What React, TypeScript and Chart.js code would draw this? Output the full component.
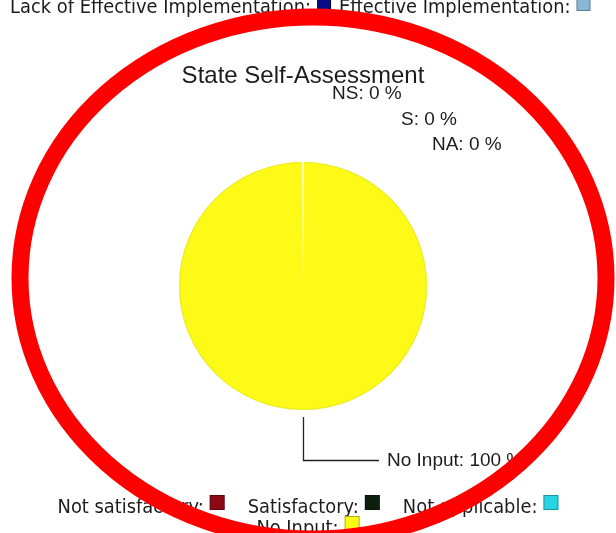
import React, { useEffect, useRef } from "react";
import { Chart, registerables } from "chart.js";

Chart.register(...registerables);

// ---- data ----
const chartTitle = "State Self-Assessment";
const categories = ["Not satisfactory", "Satisfactory", "Not applicable", "No Input"];
const shortLabels = ["NS", "S", "NA", "No Input"];
const values = [0, 0, 0, 100];
const sliceColors = ["#8c0a14", "#0c1f0e", "#26d4e2", "#fcfa16"];
const topLegendLabels = ["Lack of Effective Implementation", "Effective Implementation"];
const topLegendColors = ["#0b0b88", "#88b6d4"];

// ---- layout constants (not data) ----
const W = 616;
const H = 533;
const LEGEND_FONT = "19px 'DejaVu Sans'";
const LEGEND_SX = 0.94;
const LABEL_FONT = "19px 'Liberation Sans', Arial";
const TEXT_COLOR = "#1c1c1c";
// offsets (in radius units) of the stacked labels for zero-size slices
const zeroLabelOffsets = [
  [0.234, -1.508],
  [0.79, -1.298],
  [1.04, -1.097],
];

function drawText(
  ctx: CanvasRenderingContext2D,
  s: string,
  x: number,
  y: number,
  font: string,
  color: string,
  align: "left" | "center" | "right" = "left",
  sx = 1
) {
  ctx.save();
  ctx.font = font;
  ctx.fillStyle = color;
  ctx.textBaseline = "alphabetic";
  ctx.textAlign = "left";
  const w = ctx.measureText(s).width * sx;
  const x0 = align === "center" ? x - w / 2 : align === "right" ? x - w : x;
  ctx.translate(x0, y);
  ctx.scale(sx, 1);
  ctx.fillText(s, 0, 0);
  ctx.restore();
  return w;
}

function measure(ctx: CanvasRenderingContext2D, s: string, font: string, sx: number) {
  ctx.save();
  ctx.font = font;
  const w = ctx.measureText(s).width * sx;
  ctx.restore();
  return w;
}

function drawSwatch(ctx: CanvasRenderingContext2D, x: number, y: number, size: number, color: string) {
  ctx.save();
  ctx.fillStyle = color;
  ctx.fillRect(x, y, size, size);
  ctx.strokeStyle = "rgba(0,0,0,0.3)";
  ctx.lineWidth = 1;
  ctx.strokeRect(x + 0.5, y + 0.5, size - 1, size - 1);
  ctx.restore();
}

type Item = { label: string; color: string };

function drawLegendRow(ctx: CanvasRenderingContext2D, items: Item[], centerX: number, baseline: number) {
  const sw = 15;
  const gapTS = 6;
  const gapItem = 23;
  const widths = items.map((it) => measure(ctx, it.label + ":", LEGEND_FONT, LEGEND_SX));
  const total =
    widths.reduce((a, b) => a + b, 0) + items.length * (gapTS + sw) + (items.length - 1) * gapItem;
  let x = centerX - total / 2;
  items.forEach((it, i) => {
    drawText(ctx, it.label + ":", x, baseline, LEGEND_FONT, TEXT_COLOR, "left", LEGEND_SX);
    x += widths[i] + gapTS;
    drawSwatch(ctx, x, baseline - 18, sw, it.color);
    x += sw + gapItem;
  });
}

const overlayPlugin = {
  id: "overlay",
  afterDatasetsDraw(chart: any) {
    const ctx: CanvasRenderingContext2D = chart.ctx;
    const meta = chart.getDatasetMeta(0);
    const total = values.reduce((a, b) => a + b, 0);
    let cx = 0,
      cy = 0,
      r = 0;
    meta.data.forEach((arc: any, i: number) => {
      const p = arc.getProps(["x", "y", "outerRadius", "startAngle", "endAngle"], true);
      cx = p.x;
      cy = p.y;
      r = p.outerRadius;
      if (values[i] > 0) {
        // soft rim
        ctx.save();
        ctx.beginPath();
        ctx.arc(p.x, p.y, p.outerRadius - 0.5, 0, Math.PI * 2);
        ctx.strokeStyle = "rgba(228,222,40,0.55)";
        ctx.lineWidth = 1.2;
        ctx.stroke();
        // light radial seam at the slice start
        const ex = p.x + Math.cos(p.startAngle) * p.outerRadius;
        const ey = p.y + Math.sin(p.startAngle) * p.outerRadius;
        const g = ctx.createLinearGradient(p.x, p.y, ex, ey);
        g.addColorStop(0, "rgba(255,255,215,0)");
        g.addColorStop(0.3, "rgba(255,255,215,0.3)");
        g.addColorStop(1, "rgba(255,255,225,0.9)");
        ctx.beginPath();
        ctx.moveTo(p.x, p.y);
        ctx.lineTo(ex, ey);
        ctx.strokeStyle = g;
        ctx.lineWidth = 2;
        ctx.stroke();
        ctx.restore();
      }
    });

    // title
    drawText(ctx, chartTitle, cx, cy - r - 79, "24px 'Liberation Sans', Arial", TEXT_COLOR, "center");

    // slice labels
    let zi = 0;
    meta.data.forEach((arc: any, i: number) => {
      const p = arc.getProps(["x", "y", "outerRadius", "startAngle", "endAngle"], true);
      const pct = Math.round((values[i] / total) * 100);
      const text = `${shortLabels[i]}: ${pct} %`;
      if (values[i] === 0) {
        const off = zeroLabelOffsets[zi++] || [1.1, -1];
        drawText(ctx, text, p.x + off[0] * p.outerRadius, p.y + off[1] * p.outerRadius, LABEL_FONT, TEXT_COLOR);
      } else {
        const mid = (p.startAngle + p.endAngle) / 2;
        const sx = p.x + Math.cos(mid) * (p.outerRadius + 7);
        const sy = p.y + Math.sin(mid) * (p.outerRadius + 7);
        const ey = p.y + Math.sin(mid) * (p.outerRadius + 50);
        const ex = sx + 76;
        ctx.save();
        ctx.beginPath();
        ctx.moveTo(Math.round(sx) + 0.5, sy);
        ctx.lineTo(Math.round(sx) + 0.5, Math.round(ey) + 0.5);
        ctx.lineTo(ex, Math.round(ey) + 0.5);
        ctx.strokeStyle = "#222";
        ctx.lineWidth = 1.3;
        ctx.stroke();
        ctx.restore();
        drawText(ctx, text, ex + 8, ey + 6, LABEL_FONT, TEXT_COLOR);
      }
    });
  },
  afterDraw(chart: any) {
    const ctx: CanvasRenderingContext2D = chart.ctx;
    // top legend (left aligned, partly cut off at the top edge)
    let x = 10;
    topLegendLabels.forEach((lab, i) => {
      const w = drawText(ctx, lab + ":", x, 13, LEGEND_FONT, TEXT_COLOR, "left", LEGEND_SX);
      x += w + 6;
      drawSwatch(ctx, x, -3, 14, topLegendColors[i]);
      x += 14 + 8;
    });
    // bottom legend
    const items: Item[] = categories.map((c, i) => ({ label: c, color: sliceColors[i] }));
    drawLegendRow(ctx, items.slice(0, 3), W / 2, 513);
    drawLegendRow(ctx, items.slice(3), W / 2, 534);

    // red hand-drawn ellipse annotation
    ctx.save();
    ctx.beginPath();
    ctx.ellipse(313, 278, 293, 261, 0, 0, Math.PI * 2);
    ctx.strokeStyle = "#ff0000";
    ctx.lineWidth = 17;
    ctx.stroke();
    ctx.restore();
  },
};

export default function App() {
  const ref = useRef<HTMLCanvasElement | null>(null);
  useEffect(() => {
    if (!ref.current) return;
    const chart = new Chart(ref.current, {
      type: "pie",
      data: {
        labels: categories,
        datasets: [
          {
            data: values,
            backgroundColor: sliceColors,
            borderWidth: 0,
          },
        ],
      },
      options: {
        responsive: false,
        animation: false,
        layout: { padding: { top: 162, bottom: 123, left: 179, right: 189 } },
        plugins: {
          legend: { display: false },
          tooltip: { enabled: false },
          title: { display: false },
        },
      },
      plugins: [overlayPlugin],
    });
    return () => chart.destroy();
  }, []);
  return (
    <div style={{ position: "absolute", left: 0, top: 0, width: W, height: H, background: "#fff" }}>
      <canvas ref={ref} width={W} height={H} style={{ display: "block" }} />
    </div>
  );
}
